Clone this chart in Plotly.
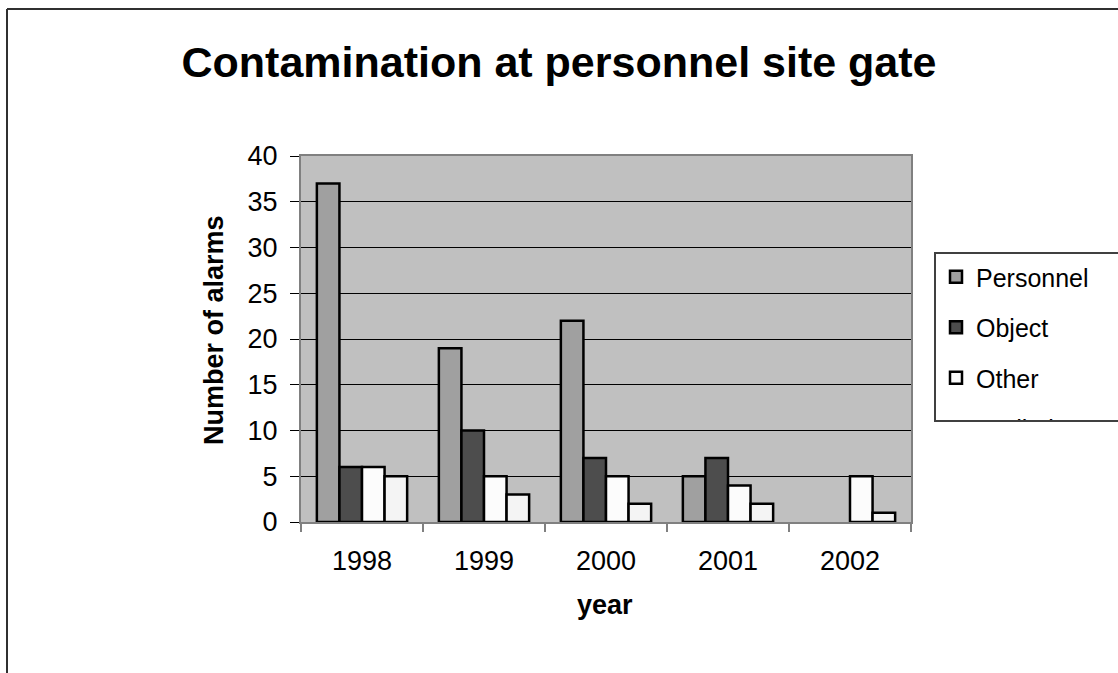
import plotly.graph_objects as go

# Alarm counts at the personnel site gate, per year and cause
years = ["1998", "1999", "2000", "2001", "2002"]
personnel = [37, 19, 22, 5, 0]
objects = [6, 10, 7, 7, 0]
other = [6, 5, 5, 4, 5]
radiation = [5, 3, 2, 2, 1]

series_names = ["Personnel", "Object", "Other", "Radiation monitor"]
series_values = [personnel, objects, other, radiation]
series_colors = ["#A0A0A0", "#4D4D4D", "#FCFCFC", "#F4F4F4"]

y_ticks = [0, 5, 10, 15, 20, 25, 30, 35, 40]

FONT = "Arial, Liberation Sans, sans-serif"
W, H = 1118, 673
# plot area in pixels
L, R, T, B = 301, 911, 156, 522
pw, ph = R - L, B - T


def px_x(x):
    return (x - L) / pw


def px_y(y):
    return (B - y) / ph


fig = go.Figure()
for name, vals, col in zip(series_names, series_values, series_colors):
    fig.add_trace(go.Bar(
        x=years, y=vals, name=name, legendgroup=name,
        marker=dict(
            color=col,
            # empty bars get no outline
            line=dict(color="black", width=[2.5 if v else 0 for v in vals]),
        ),
    ))

fig.update_layout(
    width=W, height=H,
    margin=dict(l=L, r=W - R, t=T, b=H - B, autoexpand=False),
    paper_bgcolor="white",
    plot_bgcolor="#C0C0C0",
    barmode="group",
    bargap=0.26,
    bargroupgap=0,
    font=dict(family=FONT, color="black"),
    title=dict(
        text="<b>Contamination at personnel site gate</b>",
        x=0.5, xref="container", xanchor="center",
        y=1 - 62 / H, yref="container", yanchor="middle",
        font=dict(size=43, family=FONT, color="black"),
    ),
    xaxis=dict(
        type="category",
        tickson="boundaries",
        ticks="outside", ticklen=8, tickwidth=2, tickcolor="#808080",
        showline=True, linecolor="#808080", linewidth=2, mirror=True,
        showgrid=False,
        tickfont=dict(size=27, family=FONT),
        ticklabelstandoff=14,
    ),
    yaxis=dict(
        range=[0, 40],
        tickvals=y_ticks,
        ticks="outside", ticklen=9, tickwidth=1, tickcolor="black",
        showline=True, linecolor="#808080", linewidth=2, mirror=True,
        showgrid=True, gridcolor="black", gridwidth=1,
        zeroline=False,
        tickfont=dict(size=27, family=FONT),
        ticklabelstandoff=7,
    ),
    legend=dict(
        x=px_x(934), y=px_y(252), xanchor="left", yanchor="top",
        bgcolor="white", bordercolor="#404040", borderwidth=2,
        font=dict(size=25, family=FONT),
        tracegroupgap=15,
        maxheight=170,
    ),
    annotations=[
        dict(text="<b>Number of alarms</b>", xref="paper", yref="paper",
             x=px_x(214), y=px_y(330), textangle=-90, showarrow=False,
             xanchor="center", yanchor="middle",
             font=dict(size=27, family=FONT)),
        dict(text="<b>year</b>", xref="paper", yref="paper",
             x=px_x(605), y=px_y(605), showarrow=False,
             xanchor="center", yanchor="middle",
             font=dict(size=27, family=FONT)),
    ],
    shapes=[
        # outer chart frame (top and left edges)
        dict(type="line", xref="paper", yref="paper",
             x0=px_x(7), x1=px_x(1200), y0=px_y(9), y1=px_y(9),
             line=dict(color="#303030", width=2)),
        dict(type="line", xref="paper", yref="paper",
             x0=px_x(7), x1=px_x(7), y0=px_y(9), y1=px_y(700),
             line=dict(color="#303030", width=2)),
    ],
)

fig.write_html("out.html")
